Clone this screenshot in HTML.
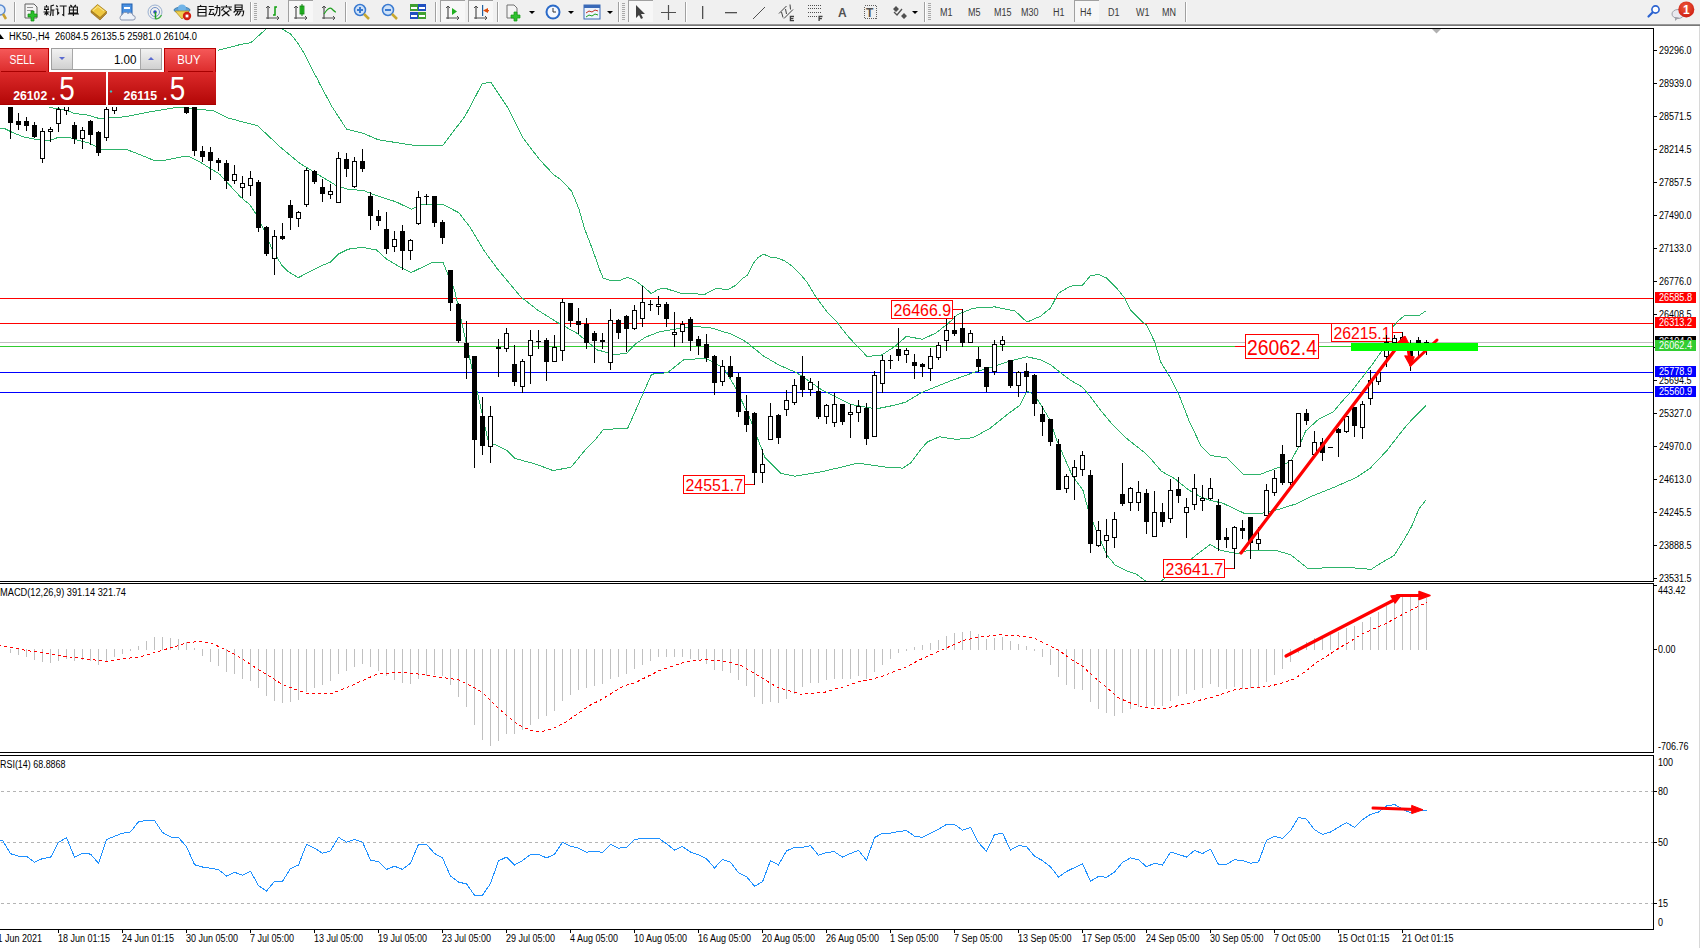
<!DOCTYPE html>
<html><head><meta charset="utf-8"><style>
html,body{margin:0;padding:0;background:#fff;}
body{width:1700px;height:948px;overflow:hidden;}
svg{display:block;font-family:"Liberation Sans", sans-serif;}
</style></head><body>
<svg width="1700" height="948" viewBox="0 0 1700 948"><rect x="0" y="0" width="1700" height="948" fill="#ffffff" /><defs><clipPath id="cmain"><rect x="0" y="29" width="1653" height="552"/></clipPath><clipPath id="cmacd"><rect x="0" y="584" width="1653" height="168"/></clipPath><clipPath id="crsi"><rect x="0" y="756" width="1653" height="173"/></clipPath><linearGradient id="gsell" x1="0" y1="0" x2="0" y2="1"><stop offset="0" stop-color="#f65a5a"/><stop offset="1" stop-color="#dc2c2c"/></linearGradient><linearGradient id="gprice" x1="0" y1="0" x2="0" y2="1"><stop offset="0" stop-color="#dc2a2a"/><stop offset="1" stop-color="#b20606"/></linearGradient><linearGradient id="gbtn" x1="0" y1="0" x2="0" y2="1"><stop offset="0" stop-color="#f2f2f2"/><stop offset="1" stop-color="#d0d0d0"/></linearGradient><linearGradient id="gtb" x1="0" y1="0" x2="0" y2="1"><stop offset="0" stop-color="#a8a8a8"/><stop offset="1" stop-color="#686868"/></linearGradient><radialGradient id="gbadge" cx="0.45" cy="0.35" r="0.7"><stop offset="0" stop-color="#ef5a3a"/><stop offset="1" stop-color="#cc1a10"/></radialGradient></defs><g clip-path="url(#cmain)"><rect x="0" y="298" width="1653" height="1" fill="#ff0000" /><rect x="0" y="323" width="1653" height="1" fill="#ff0000" /><rect x="0" y="342" width="1653" height="1" fill="#c0c0c0" /><rect x="0" y="346" width="1653" height="1" fill="#32cd32" /><rect x="0" y="372" width="1653" height="1" fill="#0000ff" /><rect x="0" y="392" width="1653" height="1" fill="#0000ff" /><polyline points="205.5,54.0 218.5,50.2 240.5,44.5 248.1,43.2 251.3,42.3 255.7,38.3 259.5,34.9 263.3,31.6 266.5,28.8 270.5,25.0 277.5,25.0 281.6,28.8 286.1,31.4 290.5,33.9 294.3,38.7 298.1,43.7 301.3,48.8 304.4,53.8 307.6,60.2 310.8,66.5 313.9,72.8 317.1,78.5 319.9,84.2 331.8,106.4 346.6,129.2 363.6,133.5 378.4,139.8 412.3,145.1 443.0,145.1 465.2,115.9 482.2,83.7 490.6,82.0 507.6,107.4 522.4,137.1 539.3,159.3 553.8,174.8 561.2,179.9 571.5,191.0 578.9,208.7 584.8,229.4 592.2,248.6 599.5,269.2 603.2,278.1 609.9,280.3 620.2,280.3 627.6,277.3 635.0,280.3 643.8,286.9 651.2,293.6 658.6,289.2 665.7,288.4 679.7,293.0 704.8,294.4 715.8,288.4 727.8,289.6 736.0,285.2 742.8,278.4 747.6,275.0 753.8,262.6 757.9,257.8 763.4,254.1 770.3,257.1 778.5,258.2 785.3,261.3 792.2,266.1 799.1,272.9 807.3,282.5 815.5,296.2 826.5,311.3 836.1,320.9 840.2,326.4 847.1,335.3 855.3,344.2 867.1,356.5 881.5,355.1 894.0,347.0 906.5,336.3 922.4,339.3 935.9,333.0 947.7,323.8 957.8,314.5 973.0,308.2 995.0,306.9 1015.2,311.1 1027.0,322.1 1040.5,316.2 1050.5,308.1 1058.5,293.1 1070.6,286.1 1082.6,285.1 1090.6,275.5 1098.6,274.5 1106.7,278.1 1116.7,288.1 1124.7,298.1 1130.7,310.2 1142.8,322.2 1146.8,325.2 1154.8,342.2 1160.8,362.3 1170.8,378.3 1178.8,394.4 1188.9,420.4 1200.8,445.6 1210.8,455.6 1226.8,457.8 1243.8,474.8 1258.8,474.8 1280.1,466.9 1290.7,461.0 1299.2,446.0 1305.6,431.1 1318.4,419.4 1333.3,412.0 1341.1,402.4 1352.0,390.8 1361.0,379.0 1372.6,364.0 1382.2,350.3 1391.8,328.4 1397.3,321.5 1404.1,316.0 1408.2,315.4 1419.2,315.4 1426.1,310.8" fill="none" stroke="#2db36a" stroke-width="1" shape-rendering="crispEdges"/><polyline points="48.7,107.3 66.4,110.0 73.4,113.2 88.7,115.3 98.1,118.2 104.0,118.2 118.1,117.6 129.9,115.9 153.4,111.2 177.0,107.3 200.5,109.5 213.2,110.6 228.0,118.0 257.7,125.8 281.0,147.7 300.0,163.5 321.2,176.4 335.5,185.1 346.6,189.0 363.6,190.6 371.8,193.8 386.9,199.1 395.5,201.6 411.3,209.2 421.5,204.5 443.0,204.5 458.8,212.7 469.9,227.0 484.1,250.7 496.8,268.1 520.5,296.6 537.5,310.0 556.8,322.1 576.8,333.1 597.5,350.0 615.5,354.6 626.6,353.2 635.6,343.8 645.6,337.1 659.7,331.7 675.7,329.1 695.8,326.5 711.8,328.1 730.5,333.9 745.6,341.5 752.4,347.0 763.4,355.9 778.5,364.8 789.5,369.6 797.1,373.0 822.2,390.1 850.9,404.4 876.1,408.9 894.0,405.3 905.5,402.2 922.4,392.1 947.7,382.0 973.0,372.7 993.3,366.8 1010.1,360.9 1027.0,356.7 1040.5,359.9 1050.5,364.7 1060.5,372.7 1070.6,380.3 1082.6,387.3 1088.6,394.4 1100.7,410.4 1110.7,422.4 1126.7,438.5 1144.4,452.5 1151.2,459.3 1161.5,471.3 1175.2,479.0 1188.8,490.1 1200.8,496.9 1210.5,500.5 1222.5,503.1 1243.8,513.1 1263.0,513.1 1280.1,508.9 1297.1,503.6 1312.0,496.1 1333.3,487.6 1355.9,477.7 1370.3,468.1 1386.6,450.9 1403.8,428.8 1412.4,419.0 1425.9,405.8" fill="none" stroke="#2db36a" stroke-width="1" shape-rendering="crispEdges"/><polyline points="-1.5,128.2 4.0,128.2 12.3,132.4 24.0,137.1 35.8,139.4 45.2,140.6 51.1,140.0 58.1,137.4 68.7,137.4 77.0,140.0 88.7,142.9 94.6,145.9 100.5,149.4 126.4,149.4 141.7,155.3 153.4,160.2 165.2,160.2 184.0,156.5 188.7,156.5 200.5,162.4 219.5,174.1 240.5,197.0 250.0,204.9 256.3,214.4 264.2,230.2 272.1,249.2 281.6,265.0 288.0,271.4 298.3,277.7 310.1,271.4 319.6,266.6 330.7,261.9 338.6,253.9 348.1,249.2 362.4,247.3 376.6,250.0 386.1,258.7 400.5,267.4 411.3,272.5 431.9,262.6 443.0,262.6 447.7,273.7 454.5,290.0 488.5,442.4 494.5,444.4 506.7,450.4 514.7,458.4 536.7,464.4 552.8,470.5 570.8,467.4 584.9,450.4 595.5,439.4 603.5,429.4 627.6,428.4 643.6,392.3 651.6,374.2 667.7,372.6 683.7,359.8 705.8,358.2 723.8,368.2 735.9,388.3 750.5,419.7 764.8,457.4 781.0,473.5 795.3,476.2 822.2,471.7 858.1,463.1 886.8,467.2 903.0,468.1 910.5,463.1 920.7,449.5 927.4,441.9 939.3,436.8 956.1,439.4 973.0,437.7 989.9,428.4 1006.8,414.9 1020.3,404.8 1027.0,391.3 1032.1,393.3 1038.8,401.4 1049.0,418.3 1057.4,441.9 1072.6,476.4 1082.9,490.1 1088.0,508.9 1096.5,531.1 1106.8,555.0 1115.3,565.3 1127.3,571.3 1135.8,573.8 1145.2,580.7 1152.5,586.0 1161.5,580.7 1192.3,558.1 1200.8,551.6 1210.2,544.4 1220.4,550.4 1237.5,553.6 1248.1,550.4 1275.8,550.4 1290.7,554.7 1307.8,568.5 1324.8,567.9 1344.0,567.5 1365.5,568.5 1370.3,569.9 1380.8,563.1 1394.2,555.5 1403.8,540.1 1411.5,526.7 1419.2,508.4 1425.9,500.2" fill="none" stroke="#2db36a" stroke-width="1" shape-rendering="crispEdges"/><rect x="891.5" y="300.5" width="61" height="18" fill="#fff" stroke="#ff0000" stroke-width="1"/><text x="893.5" y="316" font-size="16" fill="#ff0000" text-anchor="start" font-weight="normal" textLength="57.60" lengthAdjust="spacingAndGlyphs" >26466.9</text><rect x="953" y="309" width="9" height="1" fill="#ff0000" /><rect x="683.5" y="475.5" width="61" height="18" fill="#fff" stroke="#ff0000" stroke-width="1"/><text x="685.5" y="491" font-size="16" fill="#ff0000" text-anchor="start" font-weight="normal" textLength="57.50" lengthAdjust="spacingAndGlyphs" >24551.7</text><rect x="745" y="484" width="10" height="1" fill="#ff0000" /><rect x="1163.5" y="559.5" width="61" height="18" fill="#fff" stroke="#ff0000" stroke-width="1"/><text x="1165.6" y="575" font-size="16" fill="#ff0000" text-anchor="start" font-weight="normal" textLength="57.40" lengthAdjust="spacingAndGlyphs" >23641.7</text><rect x="1225" y="568" width="10" height="1" fill="#ff0000" /><rect x="1331.5" y="323.5" width="61" height="18" fill="#fff" stroke="#ff0000" stroke-width="1"/><text x="1333.5" y="339" font-size="16" fill="#ff0000" text-anchor="start" font-weight="normal" textLength="57.00" lengthAdjust="spacingAndGlyphs" >26215.1</text><rect x="1393" y="332" width="10" height="1" fill="#ff0000" /><g shape-rendering="crispEdges"><rect x="10" y="95" width="1" height="44" fill="#000" /><rect x="8" y="95" width="5" height="28" fill="#000" /><rect x="18" y="113" width="1" height="17" fill="#000" /><rect x="16" y="121" width="5" height="4" fill="#000" /><rect x="26" y="117" width="1" height="14" fill="#000" /><rect x="24" y="121" width="5" height="5" fill="#000" /><rect x="34" y="122" width="1" height="16" fill="#000" /><rect x="32" y="125" width="5" height="12" fill="#000" /><rect x="42" y="128" width="1" height="35" fill="#000" /><rect x="40" y="131" width="5" height="28" fill="#000" /><rect x="41" y="132" width="3" height="26" fill="#fff" /><rect x="50" y="127" width="1" height="15" fill="#000" /><rect x="48" y="129" width="5" height="3" fill="#000" /><rect x="49" y="130" width="3" height="1" fill="#fff" /><rect x="58" y="100" width="1" height="32" fill="#000" /><rect x="56" y="109" width="5" height="15" fill="#000" /><rect x="57" y="110" width="3" height="13" fill="#fff" /><rect x="66" y="95" width="1" height="20" fill="#000" /><rect x="64" y="95" width="5" height="16" fill="#000" /><rect x="65" y="96" width="3" height="14" fill="#fff" /><rect x="74" y="122" width="1" height="22" fill="#000" /><rect x="72" y="125" width="5" height="14" fill="#000" /><rect x="82" y="127" width="1" height="22" fill="#000" /><rect x="80" y="130" width="5" height="9" fill="#000" /><rect x="81" y="131" width="3" height="7" fill="#fff" /><rect x="90" y="120" width="1" height="25" fill="#000" /><rect x="88" y="121" width="5" height="14" fill="#000" /><rect x="98" y="131" width="1" height="25" fill="#000" /><rect x="96" y="132" width="5" height="21" fill="#000" /><rect x="106" y="100" width="1" height="41" fill="#000" /><rect x="104" y="109" width="5" height="29" fill="#000" /><rect x="105" y="110" width="3" height="27" fill="#fff" /><rect x="114" y="95" width="1" height="19" fill="#000" /><rect x="112" y="95" width="5" height="16" fill="#000" /><rect x="113" y="96" width="3" height="14" fill="#fff" /><rect x="186" y="80" width="1" height="34" fill="#000" /><rect x="184" y="90" width="5" height="23" fill="#000" /><rect x="194" y="90" width="1" height="66" fill="#000" /><rect x="192" y="95" width="5" height="56" fill="#000" /><rect x="202" y="146" width="1" height="16" fill="#000" /><rect x="200" y="151" width="5" height="6" fill="#000" /><rect x="210" y="147" width="1" height="33" fill="#000" /><rect x="208" y="152" width="5" height="9" fill="#000" /><rect x="218" y="158" width="1" height="13" fill="#000" /><rect x="216" y="160" width="5" height="3" fill="#000" /><rect x="226" y="160" width="1" height="29" fill="#000" /><rect x="224" y="163" width="5" height="18" fill="#000" /><rect x="234" y="165" width="1" height="19" fill="#000" /><rect x="232" y="174" width="5" height="7" fill="#000" /><rect x="233" y="175" width="3" height="5" fill="#fff" /><rect x="242" y="176" width="1" height="22" fill="#000" /><rect x="240" y="183" width="5" height="5" fill="#000" /><rect x="241" y="184" width="3" height="3" fill="#fff" /><rect x="250" y="171" width="1" height="25" fill="#000" /><rect x="248" y="178" width="5" height="8" fill="#000" /><rect x="249" y="179" width="3" height="6" fill="#fff" /><rect x="258" y="180" width="1" height="52" fill="#000" /><rect x="256" y="182" width="5" height="46" fill="#000" /><rect x="266" y="226" width="1" height="30" fill="#000" /><rect x="264" y="227" width="5" height="27" fill="#000" /><rect x="274" y="230" width="1" height="45" fill="#000" /><rect x="272" y="236" width="5" height="23" fill="#000" /><rect x="273" y="237" width="3" height="21" fill="#fff" /><rect x="282" y="223" width="1" height="17" fill="#000" /><rect x="280" y="236" width="5" height="3" fill="#000" /><rect x="290" y="200" width="1" height="30" fill="#000" /><rect x="288" y="205" width="5" height="13" fill="#000" /><rect x="298" y="211" width="1" height="16" fill="#000" /><rect x="296" y="212" width="5" height="7" fill="#000" /><rect x="297" y="213" width="3" height="5" fill="#fff" /><rect x="306" y="168" width="1" height="39" fill="#000" /><rect x="304" y="170" width="5" height="35" fill="#000" /><rect x="305" y="171" width="3" height="33" fill="#fff" /><rect x="314" y="170" width="1" height="14" fill="#000" /><rect x="312" y="171" width="5" height="11" fill="#000" /><rect x="322" y="179" width="1" height="23" fill="#000" /><rect x="320" y="187" width="5" height="7" fill="#000" /><rect x="330" y="184" width="1" height="15" fill="#000" /><rect x="328" y="191" width="5" height="4" fill="#000" /><rect x="329" y="192" width="3" height="2" fill="#fff" /><rect x="338" y="152" width="1" height="51" fill="#000" /><rect x="336" y="158" width="5" height="45" fill="#000" /><rect x="337" y="159" width="3" height="43" fill="#fff" /><rect x="346" y="153" width="1" height="24" fill="#000" /><rect x="344" y="159" width="5" height="10" fill="#000" /><rect x="354" y="157" width="1" height="31" fill="#000" /><rect x="352" y="161" width="5" height="26" fill="#000" /><rect x="353" y="162" width="3" height="24" fill="#fff" /><rect x="362" y="149" width="1" height="23" fill="#000" /><rect x="360" y="161" width="5" height="8" fill="#000" /><rect x="370" y="192" width="1" height="38" fill="#000" /><rect x="368" y="196" width="5" height="20" fill="#000" /><rect x="378" y="210" width="1" height="16" fill="#000" /><rect x="376" y="216" width="5" height="5" fill="#000" /><rect x="386" y="212" width="1" height="42" fill="#000" /><rect x="384" y="229" width="5" height="20" fill="#000" /><rect x="394" y="231" width="1" height="21" fill="#000" /><rect x="392" y="239" width="5" height="8" fill="#000" /><rect x="393" y="240" width="3" height="6" fill="#fff" /><rect x="402" y="225" width="1" height="45" fill="#000" /><rect x="400" y="231" width="5" height="20" fill="#000" /><rect x="410" y="239" width="1" height="21" fill="#000" /><rect x="408" y="240" width="5" height="11" fill="#000" /><rect x="409" y="241" width="3" height="9" fill="#fff" /><rect x="418" y="191" width="1" height="34" fill="#000" /><rect x="416" y="197" width="5" height="27" fill="#000" /><rect x="417" y="198" width="3" height="25" fill="#fff" /><rect x="426" y="194" width="1" height="11" fill="#000" /><rect x="424" y="196" width="5" height="1" fill="#000" /><rect x="434" y="196" width="1" height="31" fill="#000" /><rect x="432" y="196" width="5" height="27" fill="#000" /><rect x="442" y="220" width="1" height="24" fill="#000" /><rect x="440" y="222" width="5" height="16" fill="#000" /><rect x="450" y="270" width="1" height="41" fill="#000" /><rect x="448" y="270" width="5" height="33" fill="#000" /><rect x="458" y="303" width="1" height="40" fill="#000" /><rect x="456" y="304" width="5" height="37" fill="#000" /><rect x="466" y="321" width="1" height="58" fill="#000" /><rect x="464" y="343" width="5" height="15" fill="#000" /><rect x="474" y="356" width="1" height="112" fill="#000" /><rect x="472" y="356" width="5" height="84" fill="#000" /><rect x="482" y="397" width="1" height="58" fill="#000" /><rect x="480" y="416" width="5" height="30" fill="#000" /><rect x="490" y="406" width="1" height="57" fill="#000" /><rect x="488" y="416" width="5" height="31" fill="#000" /><rect x="489" y="417" width="3" height="29" fill="#fff" /><rect x="498" y="339" width="1" height="38" fill="#000" /><rect x="496" y="347" width="5" height="2" fill="#000" /><rect x="506" y="328" width="1" height="24" fill="#000" /><rect x="504" y="333" width="5" height="16" fill="#000" /><rect x="505" y="334" width="3" height="14" fill="#fff" /><rect x="514" y="345" width="1" height="41" fill="#000" /><rect x="512" y="364" width="5" height="18" fill="#000" /><rect x="522" y="359" width="1" height="34" fill="#000" /><rect x="520" y="361" width="5" height="26" fill="#000" /><rect x="521" y="362" width="3" height="24" fill="#fff" /><rect x="530" y="330" width="1" height="54" fill="#000" /><rect x="528" y="340" width="5" height="16" fill="#000" /><rect x="529" y="341" width="3" height="14" fill="#fff" /><rect x="538" y="330" width="1" height="19" fill="#000" /><rect x="536" y="341" width="5" height="1" fill="#000" /><rect x="546" y="338" width="1" height="43" fill="#000" /><rect x="544" y="340" width="5" height="22" fill="#000" /><rect x="554" y="335" width="1" height="27" fill="#000" /><rect x="552" y="347" width="5" height="15" fill="#000" /><rect x="553" y="348" width="3" height="13" fill="#fff" /><rect x="562" y="299" width="1" height="62" fill="#000" /><rect x="560" y="302" width="5" height="49" fill="#000" /><rect x="561" y="303" width="3" height="47" fill="#fff" /><rect x="570" y="303" width="1" height="24" fill="#000" /><rect x="568" y="303" width="5" height="18" fill="#000" /><rect x="578" y="308" width="1" height="26" fill="#000" /><rect x="576" y="321" width="5" height="4" fill="#000" /><rect x="586" y="318" width="1" height="31" fill="#000" /><rect x="584" y="324" width="5" height="19" fill="#000" /><rect x="594" y="331" width="1" height="32" fill="#000" /><rect x="592" y="333" width="5" height="8" fill="#000" /><rect x="602" y="333" width="1" height="16" fill="#000" /><rect x="600" y="340" width="5" height="2" fill="#000" /><rect x="610" y="309" width="1" height="61" fill="#000" /><rect x="608" y="320" width="5" height="43" fill="#000" /><rect x="609" y="321" width="3" height="41" fill="#fff" /><rect x="618" y="319" width="1" height="20" fill="#000" /><rect x="616" y="320" width="5" height="13" fill="#000" /><rect x="626" y="315" width="1" height="37" fill="#000" /><rect x="624" y="316" width="5" height="13" fill="#000" /><rect x="634" y="305" width="1" height="25" fill="#000" /><rect x="632" y="310" width="5" height="19" fill="#000" /><rect x="633" y="311" width="3" height="17" fill="#fff" /><rect x="642" y="286" width="1" height="41" fill="#000" /><rect x="640" y="302" width="5" height="17" fill="#000" /><rect x="641" y="303" width="3" height="15" fill="#fff" /><rect x="650" y="300" width="1" height="11" fill="#000" /><rect x="648" y="304" width="5" height="1" fill="#000" /><rect x="658" y="296" width="1" height="19" fill="#000" /><rect x="656" y="304" width="5" height="3" fill="#000" /><rect x="657" y="305" width="3" height="1" fill="#fff" /><rect x="666" y="302" width="1" height="25" fill="#000" /><rect x="664" y="304" width="5" height="15" fill="#000" /><rect x="674" y="312" width="1" height="35" fill="#000" /><rect x="672" y="332" width="5" height="3" fill="#000" /><rect x="673" y="333" width="3" height="1" fill="#fff" /><rect x="682" y="321" width="1" height="22" fill="#000" /><rect x="680" y="324" width="5" height="8" fill="#000" /><rect x="681" y="325" width="3" height="6" fill="#fff" /><rect x="690" y="317" width="1" height="34" fill="#000" /><rect x="688" y="319" width="5" height="22" fill="#000" /><rect x="698" y="336" width="1" height="19" fill="#000" /><rect x="696" y="339" width="5" height="7" fill="#000" /><rect x="706" y="334" width="1" height="28" fill="#000" /><rect x="704" y="344" width="5" height="14" fill="#000" /><rect x="714" y="355" width="1" height="40" fill="#000" /><rect x="712" y="356" width="5" height="27" fill="#000" /><rect x="722" y="360" width="1" height="26" fill="#000" /><rect x="720" y="366" width="5" height="16" fill="#000" /><rect x="721" y="367" width="3" height="14" fill="#fff" /><rect x="730" y="356" width="1" height="22" fill="#000" /><rect x="728" y="366" width="5" height="11" fill="#000" /><rect x="738" y="373" width="1" height="44" fill="#000" /><rect x="736" y="377" width="5" height="35" fill="#000" /><rect x="746" y="395" width="1" height="37" fill="#000" /><rect x="744" y="411" width="5" height="14" fill="#000" /><rect x="754" y="412" width="1" height="73" fill="#000" /><rect x="752" y="413" width="5" height="60" fill="#000" /><rect x="762" y="449" width="1" height="34" fill="#000" /><rect x="760" y="464" width="5" height="9" fill="#000" /><rect x="761" y="465" width="3" height="7" fill="#fff" /><rect x="770" y="403" width="1" height="37" fill="#000" /><rect x="768" y="416" width="5" height="24" fill="#000" /><rect x="769" y="417" width="3" height="22" fill="#fff" /><rect x="778" y="414" width="1" height="30" fill="#000" /><rect x="776" y="415" width="5" height="23" fill="#000" /><rect x="786" y="390" width="1" height="26" fill="#000" /><rect x="784" y="400" width="5" height="10" fill="#000" /><rect x="785" y="401" width="3" height="8" fill="#fff" /><rect x="794" y="379" width="1" height="26" fill="#000" /><rect x="792" y="385" width="5" height="18" fill="#000" /><rect x="793" y="386" width="3" height="16" fill="#fff" /><rect x="802" y="356" width="1" height="41" fill="#000" /><rect x="800" y="376" width="5" height="14" fill="#000" /><rect x="810" y="378" width="1" height="18" fill="#000" /><rect x="808" y="382" width="5" height="8" fill="#000" /><rect x="809" y="383" width="3" height="6" fill="#fff" /><rect x="818" y="381" width="1" height="38" fill="#000" /><rect x="816" y="391" width="5" height="26" fill="#000" /><rect x="826" y="404" width="1" height="20" fill="#000" /><rect x="824" y="405" width="5" height="12" fill="#000" /><rect x="825" y="406" width="3" height="10" fill="#fff" /><rect x="834" y="393" width="1" height="34" fill="#000" /><rect x="832" y="404" width="5" height="19" fill="#000" /><rect x="833" y="405" width="3" height="17" fill="#fff" /><rect x="842" y="404" width="1" height="21" fill="#000" /><rect x="840" y="404" width="5" height="18" fill="#000" /><rect x="850" y="404" width="1" height="34" fill="#000" /><rect x="848" y="412" width="5" height="3" fill="#000" /><rect x="849" y="413" width="3" height="1" fill="#fff" /><rect x="858" y="400" width="1" height="22" fill="#000" /><rect x="856" y="406" width="5" height="7" fill="#000" /><rect x="857" y="407" width="3" height="5" fill="#fff" /><rect x="866" y="403" width="1" height="42" fill="#000" /><rect x="864" y="408" width="5" height="31" fill="#000" /><rect x="874" y="371" width="1" height="66" fill="#000" /><rect x="872" y="375" width="5" height="62" fill="#000" /><rect x="873" y="376" width="3" height="60" fill="#fff" /><rect x="882" y="355" width="1" height="38" fill="#000" /><rect x="880" y="360" width="5" height="24" fill="#000" /><rect x="881" y="361" width="3" height="22" fill="#fff" /><rect x="890" y="355" width="1" height="14" fill="#000" /><rect x="888" y="360" width="5" height="1" fill="#000" /><rect x="898" y="328" width="1" height="33" fill="#000" /><rect x="896" y="349" width="5" height="7" fill="#000" /><rect x="906" y="348" width="1" height="15" fill="#000" /><rect x="904" y="350" width="5" height="5" fill="#000" /><rect x="905" y="351" width="3" height="3" fill="#fff" /><rect x="914" y="354" width="1" height="25" fill="#000" /><rect x="912" y="362" width="5" height="4" fill="#000" /><rect x="922" y="363" width="1" height="14" fill="#000" /><rect x="920" y="364" width="5" height="3" fill="#000" /><rect x="930" y="348" width="1" height="33" fill="#000" /><rect x="928" y="356" width="5" height="13" fill="#000" /><rect x="929" y="357" width="3" height="11" fill="#fff" /><rect x="938" y="342" width="1" height="18" fill="#000" /><rect x="936" y="345" width="5" height="13" fill="#000" /><rect x="937" y="346" width="3" height="11" fill="#fff" /><rect x="946" y="319" width="1" height="32" fill="#000" /><rect x="944" y="330" width="5" height="11" fill="#000" /><rect x="945" y="331" width="3" height="9" fill="#fff" /><rect x="954" y="316" width="1" height="20" fill="#000" /><rect x="952" y="330" width="5" height="4" fill="#000" /><rect x="962" y="309" width="1" height="38" fill="#000" /><rect x="960" y="328" width="5" height="15" fill="#000" /><rect x="970" y="330" width="1" height="13" fill="#000" /><rect x="968" y="333" width="5" height="10" fill="#000" /><rect x="969" y="334" width="3" height="8" fill="#fff" /><rect x="978" y="347" width="1" height="25" fill="#000" /><rect x="976" y="359" width="5" height="8" fill="#000" /><rect x="986" y="367" width="1" height="25" fill="#000" /><rect x="984" y="367" width="5" height="20" fill="#000" /><rect x="994" y="340" width="1" height="35" fill="#000" /><rect x="992" y="344" width="5" height="28" fill="#000" /><rect x="993" y="345" width="3" height="26" fill="#fff" /><rect x="1002" y="336" width="1" height="15" fill="#000" /><rect x="1000" y="340" width="5" height="5" fill="#000" /><rect x="1001" y="341" width="3" height="3" fill="#fff" /><rect x="1010" y="360" width="1" height="28" fill="#000" /><rect x="1008" y="360" width="5" height="26" fill="#000" /><rect x="1018" y="371" width="1" height="26" fill="#000" /><rect x="1016" y="372" width="5" height="14" fill="#000" /><rect x="1017" y="373" width="3" height="12" fill="#fff" /><rect x="1026" y="363" width="1" height="29" fill="#000" /><rect x="1024" y="371" width="5" height="6" fill="#000" /><rect x="1034" y="374" width="1" height="42" fill="#000" /><rect x="1032" y="375" width="5" height="29" fill="#000" /><rect x="1042" y="406" width="1" height="30" fill="#000" /><rect x="1040" y="414" width="5" height="8" fill="#000" /><rect x="1050" y="419" width="1" height="27" fill="#000" /><rect x="1048" y="419" width="5" height="23" fill="#000" /><rect x="1058" y="439" width="1" height="51" fill="#000" /><rect x="1056" y="444" width="5" height="46" fill="#000" /><rect x="1066" y="474" width="1" height="19" fill="#000" /><rect x="1064" y="476" width="5" height="13" fill="#000" /><rect x="1065" y="477" width="3" height="11" fill="#fff" /><rect x="1074" y="460" width="1" height="40" fill="#000" /><rect x="1072" y="467" width="5" height="10" fill="#000" /><rect x="1073" y="468" width="3" height="8" fill="#fff" /><rect x="1082" y="451" width="1" height="25" fill="#000" /><rect x="1080" y="455" width="5" height="15" fill="#000" /><rect x="1081" y="456" width="3" height="13" fill="#fff" /><rect x="1090" y="470" width="1" height="83" fill="#000" /><rect x="1088" y="475" width="5" height="69" fill="#000" /><rect x="1098" y="521" width="1" height="26" fill="#000" /><rect x="1096" y="530" width="5" height="16" fill="#000" /><rect x="1097" y="531" width="3" height="14" fill="#fff" /><rect x="1106" y="519" width="1" height="39" fill="#000" /><rect x="1104" y="535" width="5" height="6" fill="#000" /><rect x="1105" y="536" width="3" height="4" fill="#fff" /><rect x="1114" y="512" width="1" height="36" fill="#000" /><rect x="1112" y="519" width="5" height="19" fill="#000" /><rect x="1113" y="520" width="3" height="17" fill="#fff" /><rect x="1122" y="463" width="1" height="43" fill="#000" /><rect x="1120" y="494" width="5" height="10" fill="#000" /><rect x="1130" y="487" width="1" height="24" fill="#000" /><rect x="1128" y="488" width="5" height="15" fill="#000" /><rect x="1129" y="489" width="3" height="13" fill="#fff" /><rect x="1138" y="481" width="1" height="30" fill="#000" /><rect x="1136" y="492" width="5" height="11" fill="#000" /><rect x="1137" y="493" width="3" height="9" fill="#fff" /><rect x="1146" y="489" width="1" height="45" fill="#000" /><rect x="1144" y="493" width="5" height="29" fill="#000" /><rect x="1154" y="491" width="1" height="46" fill="#000" /><rect x="1152" y="512" width="5" height="25" fill="#000" /><rect x="1153" y="513" width="3" height="23" fill="#fff" /><rect x="1162" y="503" width="1" height="24" fill="#000" /><rect x="1160" y="512" width="5" height="10" fill="#000" /><rect x="1170" y="479" width="1" height="44" fill="#000" /><rect x="1168" y="490" width="5" height="29" fill="#000" /><rect x="1169" y="491" width="3" height="27" fill="#fff" /><rect x="1178" y="477" width="1" height="26" fill="#000" /><rect x="1176" y="489" width="5" height="7" fill="#000" /><rect x="1186" y="498" width="1" height="40" fill="#000" /><rect x="1184" y="507" width="5" height="6" fill="#000" /><rect x="1185" y="508" width="3" height="4" fill="#fff" /><rect x="1194" y="474" width="1" height="36" fill="#000" /><rect x="1192" y="488" width="5" height="17" fill="#000" /><rect x="1193" y="489" width="3" height="15" fill="#fff" /><rect x="1202" y="485" width="1" height="26" fill="#000" /><rect x="1200" y="498" width="5" height="3" fill="#000" /><rect x="1201" y="499" width="3" height="1" fill="#fff" /><rect x="1210" y="478" width="1" height="22" fill="#000" /><rect x="1208" y="488" width="5" height="11" fill="#000" /><rect x="1209" y="489" width="3" height="9" fill="#fff" /><rect x="1218" y="499" width="1" height="52" fill="#000" /><rect x="1216" y="505" width="5" height="35" fill="#000" /><rect x="1226" y="528" width="1" height="20" fill="#000" /><rect x="1224" y="537" width="5" height="3" fill="#000" /><rect x="1234" y="526" width="1" height="43" fill="#000" /><rect x="1232" y="527" width="5" height="22" fill="#000" /><rect x="1233" y="528" width="3" height="20" fill="#fff" /><rect x="1242" y="520" width="1" height="19" fill="#000" /><rect x="1240" y="528" width="5" height="3" fill="#000" /><rect x="1250" y="517" width="1" height="42" fill="#000" /><rect x="1248" y="517" width="5" height="26" fill="#000" /><rect x="1258" y="527" width="1" height="23" fill="#000" /><rect x="1256" y="539" width="5" height="5" fill="#000" /><rect x="1257" y="540" width="3" height="3" fill="#fff" /><rect x="1266" y="484" width="1" height="32" fill="#000" /><rect x="1264" y="490" width="5" height="26" fill="#000" /><rect x="1265" y="491" width="3" height="24" fill="#fff" /><rect x="1274" y="470" width="1" height="26" fill="#000" /><rect x="1272" y="478" width="5" height="15" fill="#000" /><rect x="1273" y="479" width="3" height="13" fill="#fff" /><rect x="1282" y="445" width="1" height="40" fill="#000" /><rect x="1280" y="454" width="5" height="29" fill="#000" /><rect x="1290" y="460" width="1" height="25" fill="#000" /><rect x="1288" y="460" width="5" height="23" fill="#000" /><rect x="1289" y="461" width="3" height="21" fill="#fff" /><rect x="1298" y="413" width="1" height="34" fill="#000" /><rect x="1296" y="413" width="5" height="34" fill="#000" /><rect x="1297" y="414" width="3" height="32" fill="#fff" /><rect x="1306" y="409" width="1" height="16" fill="#000" /><rect x="1304" y="413" width="5" height="8" fill="#000" /><rect x="1314" y="431" width="1" height="24" fill="#000" /><rect x="1312" y="442" width="5" height="13" fill="#000" /><rect x="1313" y="443" width="3" height="11" fill="#fff" /><rect x="1322" y="438" width="1" height="23" fill="#000" /><rect x="1320" y="442" width="5" height="11" fill="#000" /><rect x="1330" y="447" width="1" height="1" fill="#000" /><rect x="1328" y="447" width="5" height="1" fill="#000" /><rect x="1338" y="428" width="1" height="29" fill="#000" /><rect x="1336" y="429" width="5" height="4" fill="#000" /><rect x="1346" y="413" width="1" height="20" fill="#000" /><rect x="1344" y="416" width="5" height="16" fill="#000" /><rect x="1345" y="417" width="3" height="14" fill="#fff" /><rect x="1354" y="407" width="1" height="30" fill="#000" /><rect x="1352" y="407" width="5" height="19" fill="#000" /><rect x="1362" y="401" width="1" height="38" fill="#000" /><rect x="1360" y="404" width="5" height="24" fill="#000" /><rect x="1361" y="405" width="3" height="22" fill="#fff" /><rect x="1370" y="370" width="1" height="35" fill="#000" /><rect x="1368" y="380" width="5" height="19" fill="#000" /><rect x="1369" y="381" width="3" height="17" fill="#fff" /><rect x="1378" y="370" width="1" height="15" fill="#000" /><rect x="1376" y="372" width="5" height="10" fill="#000" /><rect x="1377" y="373" width="3" height="8" fill="#fff" /><rect x="1386" y="335" width="1" height="32" fill="#000" /><rect x="1384" y="342" width="5" height="15" fill="#000" /><rect x="1385" y="343" width="3" height="13" fill="#fff" /><rect x="1394" y="335" width="1" height="14" fill="#000" /><rect x="1392" y="338" width="5" height="5" fill="#000" /><rect x="1393" y="339" width="3" height="3" fill="#fff" /><rect x="1402" y="332" width="1" height="19" fill="#000" /><rect x="1400" y="337" width="5" height="11" fill="#000" /><rect x="1401" y="338" width="3" height="9" fill="#fff" /><rect x="1410" y="340" width="1" height="31" fill="#000" /><rect x="1408" y="344" width="5" height="12" fill="#000" /><rect x="1418" y="337" width="1" height="19" fill="#000" /><rect x="1416" y="340" width="5" height="4" fill="#000" /><rect x="1426" y="340" width="1" height="15" fill="#000" /><rect x="1424" y="342" width="5" height="3" fill="#000" /><rect x="1425" y="343" width="3" height="1" fill="#fff" /></g><g stroke="#ff0000" fill="#ff0000" stroke-linecap="round" stroke-linejoin="round"><line x1="1241" y1="553" x2="1404" y2="338" stroke-width="3.2"/><polygon points="1397,343 1405,336 1408.5,343" stroke-width="1"/><line x1="1407.5" y1="345" x2="1409.5" y2="358" stroke-width="3"/><polygon points="1405,356 1414,357 1410.5,366" stroke-width="1.5"/><line x1="1410.5" y1="365" x2="1437" y2="340" stroke-width="3"/></g><rect x="1351" y="343" width="127" height="8" fill="#00ff00" /><rect x="1235" y="346" width="10" height="1" fill="#ff0000" /><rect x="1245.5" y="334.5" width="73" height="24" fill="#fff" stroke="#ff0000" stroke-width="1"/><text x="1247" y="355.3" font-size="22" fill="#ff0000" text-anchor="start" font-weight="normal" textLength="70.00" lengthAdjust="spacingAndGlyphs" >26062.4</text><polygon points="0,34 0,39 4,39" fill="#000"/><text x="9" y="40" font-size="10" fill="#000" text-anchor="start" font-weight="normal" textLength="188.00" lengthAdjust="spacingAndGlyphs" >HK50-,H4&#160;&#160;26084.5 26135.5 25981.0 26104.0</text></g><rect x="0" y="46" width="218" height="61" fill="#ffffff" /><rect x="0" y="48" width="49" height="24" fill="url(#gsell)" /><rect x="0" y="48" width="49" height="1" fill="#b80000" /><rect x="48" y="48" width="1" height="24" fill="#b80000" /><rect x="1" y="71" width="45" height="1" fill="#a80000" /><rect x="1" y="72" width="45" height="1" fill="#f07070" /><text x="9.5" y="64" font-size="12.5" fill="#fff" text-anchor="start" font-weight="normal" textLength="25.30" lengthAdjust="spacingAndGlyphs" >SELL</text><rect x="164" y="48" width="52" height="24" fill="url(#gsell)" /><rect x="164" y="48" width="52" height="1" fill="#b80000" /><rect x="164" y="48" width="1" height="24" fill="#b80000" /><rect x="215" y="48" width="1" height="57" fill="#b80000" /><rect x="168" y="71" width="45" height="1" fill="#a80000" /><rect x="168" y="72" width="45" height="1" fill="#f07070" /><text x="177.3" y="64" font-size="12.5" fill="#fff" text-anchor="start" font-weight="normal" textLength="23.30" lengthAdjust="spacingAndGlyphs" >BUY</text><rect x="49" y="48" width="115" height="24" fill="#ffffff" /><rect x="51" y="48" width="111" height="22" fill="#a0a0a0" /><rect x="52" y="49" width="109" height="20" fill="#ffffff" /><rect x="52" y="49" width="20" height="20" fill="url(#gbtn)" /><rect x="72" y="49" width="1" height="20" fill="#a8a8a8" /><rect x="140" y="49" width="1" height="20" fill="#a8a8a8" /><rect x="141" y="49" width="20" height="20" fill="url(#gbtn)" /><polygon points="59,57 65,57 62,60" fill="#5a6ad0"/><polygon points="148,60 154,60 151,57" fill="#5a6ad0"/><text x="136.5" y="63.5" font-size="12" fill="#000" text-anchor="end" font-weight="normal" textLength="22.60" lengthAdjust="spacingAndGlyphs" >1.00</text><rect x="0" y="72" width="106" height="33" fill="url(#gprice)" /><rect x="108" y="72" width="108" height="33" fill="url(#gprice)" /><rect x="106" y="72" width="2" height="33" fill="#ffffff" /><rect x="0" y="104" width="106" height="1" fill="#a80000" /><rect x="108" y="104" width="108" height="1" fill="#a80000" /><text x="13.2" y="100" font-size="12.5" fill="#fff" text-anchor="start" font-weight="bold" textLength="34.00" lengthAdjust="spacingAndGlyphs" >26102</text><text x="51.5" y="100" font-size="14" fill="#fff" text-anchor="start" font-weight="bold" textLength="3.89" lengthAdjust="spacingAndGlyphs" >.</text><text x="59.3" y="100.2" font-size="33.5" fill="#fff" text-anchor="start" font-weight="normal" textLength="15.50" lengthAdjust="spacingAndGlyphs" >5</text><text x="123.6" y="100" font-size="12.5" fill="#fff" text-anchor="start" font-weight="bold" textLength="33.60" lengthAdjust="spacingAndGlyphs" >26115</text><text x="163.2" y="100" font-size="14" fill="#fff" text-anchor="start" font-weight="bold" textLength="3.89" lengthAdjust="spacingAndGlyphs" >.</text><text x="169.7" y="100.2" font-size="33.5" fill="#fff" text-anchor="start" font-weight="normal" textLength="15.50" lengthAdjust="spacingAndGlyphs" >5</text><rect x="110" y="90.5" width="2" height="2" fill="#40c0c0" transform="rotate(45 111 91.5)"/><g clip-path="url(#cmacd)"><g shape-rendering="crispEdges"><rect x="10" y="649" width="1" height="4" fill="#c0c0c0" /><rect x="18" y="649" width="1" height="6" fill="#c0c0c0" /><rect x="26" y="649" width="1" height="8" fill="#c0c0c0" /><rect x="34" y="649" width="1" height="11" fill="#c0c0c0" /><rect x="42" y="649" width="1" height="13" fill="#c0c0c0" /><rect x="50" y="649" width="1" height="14" fill="#c0c0c0" /><rect x="58" y="649" width="1" height="12" fill="#c0c0c0" /><rect x="66" y="649" width="1" height="10" fill="#c0c0c0" /><rect x="74" y="649" width="1" height="12" fill="#c0c0c0" /><rect x="82" y="649" width="1" height="11" fill="#c0c0c0" /><rect x="90" y="649" width="1" height="12" fill="#c0c0c0" /><rect x="98" y="649" width="1" height="16" fill="#c0c0c0" /><rect x="106" y="649" width="1" height="13" fill="#c0c0c0" /><rect x="114" y="649" width="1" height="8" fill="#c0c0c0" /><rect x="122" y="649" width="1" height="5" fill="#c0c0c0" /><rect x="130" y="649" width="1" height="2" fill="#c0c0c0" /><rect x="138" y="646" width="1" height="4" fill="#c0c0c0" /><rect x="146" y="641" width="1" height="9" fill="#c0c0c0" /><rect x="154" y="637" width="1" height="13" fill="#c0c0c0" /><rect x="162" y="637" width="1" height="13" fill="#c0c0c0" /><rect x="170" y="638" width="1" height="12" fill="#c0c0c0" /><rect x="178" y="639" width="1" height="11" fill="#c0c0c0" /><rect x="186" y="642" width="1" height="8" fill="#c0c0c0" /><rect x="194" y="648" width="1" height="2" fill="#c0c0c0" /><rect x="202" y="649" width="1" height="7" fill="#c0c0c0" /><rect x="210" y="649" width="1" height="13" fill="#c0c0c0" /><rect x="218" y="649" width="1" height="17" fill="#c0c0c0" /><rect x="226" y="649" width="1" height="23" fill="#c0c0c0" /><rect x="234" y="649" width="1" height="25" fill="#c0c0c0" /><rect x="242" y="649" width="1" height="30" fill="#c0c0c0" /><rect x="250" y="649" width="1" height="32" fill="#c0c0c0" /><rect x="258" y="649" width="1" height="39" fill="#c0c0c0" /><rect x="266" y="649" width="1" height="47" fill="#c0c0c0" /><rect x="274" y="649" width="1" height="52" fill="#c0c0c0" /><rect x="282" y="649" width="1" height="54" fill="#c0c0c0" /><rect x="290" y="649" width="1" height="53" fill="#c0c0c0" /><rect x="298" y="649" width="1" height="51" fill="#c0c0c0" /><rect x="306" y="649" width="1" height="43" fill="#c0c0c0" /><rect x="314" y="649" width="1" height="39" fill="#c0c0c0" /><rect x="322" y="649" width="1" height="36" fill="#c0c0c0" /><rect x="330" y="649" width="1" height="32" fill="#c0c0c0" /><rect x="338" y="649" width="1" height="25" fill="#c0c0c0" /><rect x="346" y="649" width="1" height="22" fill="#c0c0c0" /><rect x="354" y="649" width="1" height="18" fill="#c0c0c0" /><rect x="362" y="649" width="1" height="15" fill="#c0c0c0" /><rect x="370" y="649" width="1" height="18" fill="#c0c0c0" /><rect x="378" y="649" width="1" height="22" fill="#c0c0c0" /><rect x="386" y="649" width="1" height="27" fill="#c0c0c0" /><rect x="394" y="649" width="1" height="31" fill="#c0c0c0" /><rect x="402" y="649" width="1" height="34" fill="#c0c0c0" /><rect x="410" y="649" width="1" height="35" fill="#c0c0c0" /><rect x="418" y="649" width="1" height="30" fill="#c0c0c0" /><rect x="426" y="649" width="1" height="27" fill="#c0c0c0" /><rect x="434" y="649" width="1" height="26" fill="#c0c0c0" /><rect x="442" y="649" width="1" height="27" fill="#c0c0c0" /><rect x="450" y="649" width="1" height="36" fill="#c0c0c0" /><rect x="458" y="649" width="1" height="48" fill="#c0c0c0" /><rect x="466" y="649" width="1" height="58" fill="#c0c0c0" /><rect x="474" y="649" width="1" height="76" fill="#c0c0c0" /><rect x="482" y="649" width="1" height="91" fill="#c0c0c0" /><rect x="490" y="649" width="1" height="97" fill="#c0c0c0" /><rect x="498" y="649" width="1" height="92" fill="#c0c0c0" /><rect x="506" y="649" width="1" height="85" fill="#c0c0c0" /><rect x="514" y="649" width="1" height="85" fill="#c0c0c0" /><rect x="522" y="649" width="1" height="81" fill="#c0c0c0" /><rect x="530" y="649" width="1" height="76" fill="#c0c0c0" /><rect x="538" y="649" width="1" height="70" fill="#c0c0c0" /><rect x="546" y="649" width="1" height="67" fill="#c0c0c0" /><rect x="554" y="649" width="1" height="62" fill="#c0c0c0" /><rect x="562" y="649" width="1" height="52" fill="#c0c0c0" /><rect x="570" y="649" width="1" height="46" fill="#c0c0c0" /><rect x="578" y="649" width="1" height="41" fill="#c0c0c0" /><rect x="586" y="649" width="1" height="39" fill="#c0c0c0" /><rect x="594" y="649" width="1" height="37" fill="#c0c0c0" /><rect x="602" y="649" width="1" height="35" fill="#c0c0c0" /><rect x="610" y="649" width="1" height="30" fill="#c0c0c0" /><rect x="618" y="649" width="1" height="28" fill="#c0c0c0" /><rect x="626" y="649" width="1" height="25" fill="#c0c0c0" /><rect x="634" y="649" width="1" height="20" fill="#c0c0c0" /><rect x="642" y="649" width="1" height="16" fill="#c0c0c0" /><rect x="650" y="649" width="1" height="12" fill="#c0c0c0" /><rect x="658" y="649" width="1" height="8" fill="#c0c0c0" /><rect x="666" y="649" width="1" height="8" fill="#c0c0c0" /><rect x="674" y="649" width="1" height="8" fill="#c0c0c0" /><rect x="682" y="649" width="1" height="8" fill="#c0c0c0" /><rect x="690" y="649" width="1" height="10" fill="#c0c0c0" /><rect x="698" y="649" width="1" height="11" fill="#c0c0c0" /><rect x="706" y="649" width="1" height="15" fill="#c0c0c0" /><rect x="714" y="649" width="1" height="21" fill="#c0c0c0" /><rect x="722" y="649" width="1" height="22" fill="#c0c0c0" /><rect x="730" y="649" width="1" height="24" fill="#c0c0c0" /><rect x="738" y="649" width="1" height="31" fill="#c0c0c0" /><rect x="746" y="649" width="1" height="37" fill="#c0c0c0" /><rect x="754" y="649" width="1" height="48" fill="#c0c0c0" /><rect x="762" y="649" width="1" height="55" fill="#c0c0c0" /><rect x="770" y="649" width="1" height="53" fill="#c0c0c0" /><rect x="778" y="649" width="1" height="54" fill="#c0c0c0" /><rect x="786" y="649" width="1" height="50" fill="#c0c0c0" /><rect x="794" y="649" width="1" height="45" fill="#c0c0c0" /><rect x="802" y="649" width="1" height="38" fill="#c0c0c0" /><rect x="810" y="649" width="1" height="34" fill="#c0c0c0" /><rect x="818" y="649" width="1" height="34" fill="#c0c0c0" /><rect x="826" y="649" width="1" height="31" fill="#c0c0c0" /><rect x="834" y="649" width="1" height="30" fill="#c0c0c0" /><rect x="842" y="649" width="1" height="30" fill="#c0c0c0" /><rect x="850" y="649" width="1" height="30" fill="#c0c0c0" /><rect x="858" y="649" width="1" height="27" fill="#c0c0c0" /><rect x="866" y="649" width="1" height="30" fill="#c0c0c0" /><rect x="874" y="649" width="1" height="23" fill="#c0c0c0" /><rect x="882" y="649" width="1" height="16" fill="#c0c0c0" /><rect x="890" y="649" width="1" height="10" fill="#c0c0c0" /><rect x="898" y="649" width="1" height="4" fill="#c0c0c0" /><rect x="906" y="649" width="1" height="2" fill="#c0c0c0" /><rect x="914" y="647" width="1" height="3" fill="#c0c0c0" /><rect x="922" y="645" width="1" height="5" fill="#c0c0c0" /><rect x="930" y="643" width="1" height="7" fill="#c0c0c0" /><rect x="938" y="640" width="1" height="10" fill="#c0c0c0" /><rect x="946" y="636" width="1" height="14" fill="#c0c0c0" /><rect x="954" y="633" width="1" height="17" fill="#c0c0c0" /><rect x="962" y="632" width="1" height="18" fill="#c0c0c0" /><rect x="970" y="631" width="1" height="19" fill="#c0c0c0" /><rect x="978" y="634" width="1" height="16" fill="#c0c0c0" /><rect x="986" y="639" width="1" height="11" fill="#c0c0c0" /><rect x="994" y="638" width="1" height="12" fill="#c0c0c0" /><rect x="1002" y="637" width="1" height="13" fill="#c0c0c0" /><rect x="1010" y="641" width="1" height="9" fill="#c0c0c0" /><rect x="1018" y="644" width="1" height="6" fill="#c0c0c0" /><rect x="1026" y="646" width="1" height="4" fill="#c0c0c0" /><rect x="1034" y="649" width="1" height="2" fill="#c0c0c0" /><rect x="1042" y="649" width="1" height="8" fill="#c0c0c0" /><rect x="1050" y="649" width="1" height="16" fill="#c0c0c0" /><rect x="1058" y="649" width="1" height="28" fill="#c0c0c0" /><rect x="1066" y="649" width="1" height="36" fill="#c0c0c0" /><rect x="1074" y="649" width="1" height="40" fill="#c0c0c0" /><rect x="1082" y="649" width="1" height="41" fill="#c0c0c0" /><rect x="1090" y="649" width="1" height="53" fill="#c0c0c0" /><rect x="1098" y="649" width="1" height="60" fill="#c0c0c0" /><rect x="1106" y="649" width="1" height="64" fill="#c0c0c0" /><rect x="1114" y="649" width="1" height="67" fill="#c0c0c0" /><rect x="1122" y="649" width="1" height="64" fill="#c0c0c0" /><rect x="1130" y="649" width="1" height="60" fill="#c0c0c0" /><rect x="1138" y="649" width="1" height="58" fill="#c0c0c0" /><rect x="1146" y="649" width="1" height="59" fill="#c0c0c0" /><rect x="1154" y="649" width="1" height="57" fill="#c0c0c0" /><rect x="1162" y="649" width="1" height="57" fill="#c0c0c0" /><rect x="1170" y="649" width="1" height="52" fill="#c0c0c0" /><rect x="1178" y="649" width="1" height="47" fill="#c0c0c0" /><rect x="1186" y="649" width="1" height="45" fill="#c0c0c0" /><rect x="1194" y="649" width="1" height="41" fill="#c0c0c0" /><rect x="1202" y="649" width="1" height="39" fill="#c0c0c0" /><rect x="1210" y="649" width="1" height="35" fill="#c0c0c0" /><rect x="1218" y="649" width="1" height="38" fill="#c0c0c0" /><rect x="1226" y="649" width="1" height="40" fill="#c0c0c0" /><rect x="1234" y="649" width="1" height="38" fill="#c0c0c0" /><rect x="1242" y="649" width="1" height="40" fill="#c0c0c0" /><rect x="1250" y="649" width="1" height="39" fill="#c0c0c0" /><rect x="1258" y="649" width="1" height="38" fill="#c0c0c0" /><rect x="1266" y="649" width="1" height="33" fill="#c0c0c0" /><rect x="1274" y="649" width="1" height="26" fill="#c0c0c0" /><rect x="1282" y="649" width="1" height="20" fill="#c0c0c0" /><rect x="1290" y="649" width="1" height="13" fill="#c0c0c0" /><rect x="1298" y="649" width="1" height="4" fill="#c0c0c0" /><rect x="1306" y="642" width="1" height="8" fill="#c0c0c0" /><rect x="1314" y="638" width="1" height="12" fill="#c0c0c0" /><rect x="1322" y="638" width="1" height="12" fill="#c0c0c0" /><rect x="1330" y="635" width="1" height="15" fill="#c0c0c0" /><rect x="1338" y="632" width="1" height="18" fill="#c0c0c0" /><rect x="1346" y="628" width="1" height="22" fill="#c0c0c0" /><rect x="1354" y="626" width="1" height="24" fill="#c0c0c0" /><rect x="1362" y="622" width="1" height="28" fill="#c0c0c0" /><rect x="1370" y="617" width="1" height="33" fill="#c0c0c0" /><rect x="1378" y="612" width="1" height="38" fill="#c0c0c0" /><rect x="1386" y="606" width="1" height="44" fill="#c0c0c0" /><rect x="1394" y="602" width="1" height="48" fill="#c0c0c0" /><rect x="1402" y="597" width="1" height="53" fill="#c0c0c0" /><rect x="1410" y="597" width="1" height="53" fill="#c0c0c0" /><rect x="1418" y="598" width="1" height="52" fill="#c0c0c0" /><rect x="1426" y="598" width="1" height="52" fill="#c0c0c0" /></g><polyline points="-1.5,645.0 0.5,645.4 24.0,650.1 47.5,653.6 71.1,657.2 94.6,660.0 106.4,661.2 118.1,659.5 141.7,656.5 165.2,649.4 188.7,642.4 200.5,641.6 212.3,643.5 235.8,654.8 259.3,670.1 282.9,684.7 306.4,693.4 329.9,694.1 353.4,684.7 377.0,674.1 400.5,672.2 424.0,674.6 435.8,676.5 459.3,680.0 471.1,685.9 482.9,692.9 494.6,704.7 506.4,715.3 518.1,724.7 529.9,730.1 541.7,731.8 553.4,728.2 565.2,722.4 577.0,714.1 588.7,705.9 600.5,700.0 612.3,692.9 624.0,685.9 635.8,682.4 647.6,676.5 659.3,670.6 671.1,666.6 682.9,662.8 694.6,660.7 706.4,659.5 718.1,660.7 729.9,662.4 741.7,665.9 753.4,672.9 765.2,680.0 777.0,687.1 788.7,690.6 800.5,694.1 824.0,692.5 835.8,688.7 847.6,685.9 859.3,681.2 871.1,679.3 882.9,676.0 894.6,671.3 906.4,667.1 918.1,660.5 929.9,655.3 941.7,650.1 953.4,644.7 965.2,640.0 977.0,637.6 988.7,636.0 1000.5,634.8 1012.3,635.3 1024.0,636.5 1035.8,638.8 1047.6,644.7 1059.3,650.6 1071.1,659.5 1082.9,666.6 1094.6,677.6 1106.4,687.1 1118.1,697.6 1129.9,702.8 1141.7,706.6 1153.4,708.9 1165.2,708.2 1177.0,705.9 1188.7,703.5 1200.5,700.0 1212.3,697.2 1224.0,693.4 1235.8,689.4 1247.6,688.2 1259.3,687.5 1271.1,685.9 1282.9,682.8 1294.6,678.8 1306.4,670.6 1318.1,661.2 1329.4,654.5 1339.8,647.4 1346.4,644.1 1352.0,640.4 1357.7,636.6 1363.3,633.3 1369.9,630.5 1376.5,627.6 1382.1,625.3 1387.8,622.5 1393.4,619.5 1400.0,615.9 1405.7,612.6 1411.3,609.8 1417.9,606.7 1424.5,603.5 1426.5,602.4" fill="none" stroke="#ff0000" stroke-width="1" stroke-dasharray="3 3" shape-rendering="crispEdges"/><g stroke="#ff0000" fill="#ff0000" stroke-linecap="round" stroke-linejoin="round"><line x1="1286" y1="656" x2="1394" y2="600" stroke-width="3.2"/><polygon points="1391,596 1401,595 1395,603" stroke-width="1.5"/><line x1="1397" y1="595.5" x2="1423" y2="595.5" stroke-width="3"/><polygon points="1419,591.5 1430,595.5 1419,599.5" stroke-width="1.5"/></g><text x="0" y="596" font-size="10" fill="#000" text-anchor="start" font-weight="normal" textLength="126.00" lengthAdjust="spacingAndGlyphs" >MACD(12,26,9) 391.14 321.74</text></g><g clip-path="url(#crsi)"><line x1="1" y1="791.5" x2="1653" y2="791.5" stroke="#b4b4b4" stroke-width="1" stroke-dasharray="3 3" shape-rendering="crispEdges"/><line x1="1" y1="842.5" x2="1653" y2="842.5" stroke="#b4b4b4" stroke-width="1" stroke-dasharray="3 3" shape-rendering="crispEdges"/><line x1="1" y1="903.5" x2="1653" y2="903.5" stroke="#b4b4b4" stroke-width="1" stroke-dasharray="3 3" shape-rendering="crispEdges"/><polyline points="-5.5,840.4 2.5,840.4 10.5,853.7 18.5,856.2 26.5,856.2 34.5,862.3 42.5,858.5 50.5,857.5 58.5,842.3 66.5,837.6 74.5,857.1 82.5,853.3 90.5,854.1 98.5,863.2 106.5,839.5 114.5,836.3 122.5,833.2 130.5,831.9 138.5,821.8 146.5,820.5 154.5,820.5 162.5,832.5 170.5,837.0 178.5,837.6 186.5,846.5 194.5,864.7 202.5,867.0 210.5,868.3 218.5,869.5 226.5,876.1 234.5,872.3 242.5,875.2 250.5,871.2 258.5,885.6 266.5,891.1 274.5,881.3 282.5,881.3 290.5,868.5 298.5,865.0 306.5,844.4 314.5,848.2 322.5,853.2 330.5,850.9 338.5,837.3 346.5,842.1 354.5,839.4 362.5,842.1 370.5,860.2 378.5,861.5 386.5,869.4 394.5,866.2 402.5,869.4 410.5,863.2 418.5,844.4 426.5,844.4 434.5,853.5 442.5,857.9 450.5,876.1 458.5,882.1 466.5,883.9 474.5,895.3 482.5,895.3 490.5,883.5 498.5,860.9 506.5,857.1 514.5,865.0 522.5,860.6 530.5,854.4 538.5,854.4 546.5,857.9 554.5,854.4 562.5,842.1 570.5,846.1 578.5,848.2 586.5,852.1 594.5,851.4 602.5,852.3 610.5,844.4 618.5,848.2 626.5,847.3 634.5,839.8 642.5,838.0 650.5,838.0 658.5,838.0 666.5,843.8 674.5,850.0 682.5,846.5 690.5,852.1 698.5,854.9 706.5,858.8 714.5,868.0 722.5,859.3 730.5,862.3 738.5,872.9 746.5,876.5 754.5,886.2 762.5,881.8 770.5,860.6 778.5,865.0 786.5,850.9 794.5,847.3 802.5,847.3 810.5,845.6 818.5,855.3 826.5,852.3 834.5,851.8 842.5,857.1 850.5,853.5 858.5,850.4 866.5,860.2 874.5,837.6 882.5,833.2 890.5,833.2 898.5,831.5 906.5,830.6 914.5,836.2 922.5,837.3 930.5,833.2 938.5,829.2 946.5,824.4 954.5,824.4 962.5,830.2 970.5,827.4 978.5,842.6 986.5,851.4 994.5,834.5 1002.5,833.2 1010.5,850.0 1018.5,845.6 1026.5,846.5 1034.5,856.2 1042.5,860.6 1050.5,866.8 1058.5,877.0 1066.5,871.5 1074.5,867.6 1082.5,863.8 1090.5,881.2 1098.5,876.5 1106.5,877.3 1114.5,872.1 1122.5,862.3 1130.5,857.9 1138.5,859.7 1146.5,866.8 1154.5,863.2 1162.5,865.0 1170.5,852.1 1178.5,854.4 1186.5,857.0 1194.5,850.5 1202.5,853.5 1210.5,849.1 1218.5,864.5 1226.5,864.5 1234.5,859.7 1242.5,860.6 1250.5,863.2 1258.5,862.0 1266.5,840.3 1274.5,836.2 1282.5,838.5 1290.5,830.6 1298.5,817.4 1306.5,819.1 1314.5,829.7 1322.5,834.5 1330.5,832.0 1338.5,827.1 1346.5,822.6 1354.5,827.4 1362.5,819.6 1370.5,814.4 1378.5,812.1 1386.5,805.9 1394.5,804.5 1402.5,809.1 1410.5,812.9 1418.5,810.3 1426.5,810.3" fill="none" stroke="#1e90ff" stroke-width="1" shape-rendering="crispEdges"/><g stroke="#ff0000" fill="#ff0000" stroke-linecap="round" stroke-linejoin="round"><line x1="1373" y1="808" x2="1416" y2="809.5" stroke-width="3"/><polygon points="1412,805.5 1423,809.8 1412,813.5" stroke-width="1"/></g><text x="0" y="768" font-size="10" fill="#000" text-anchor="start" font-weight="normal" textLength="65.50" lengthAdjust="spacingAndGlyphs" >RSI(14) 68.8868</text></g><g shape-rendering="crispEdges"><rect x="0" y="28" width="1654" height="1" fill="#000" /><rect x="1653" y="28" width="1" height="554" fill="#000" /><rect x="0" y="581" width="1654" height="1" fill="#000" /><rect x="0" y="583" width="1654" height="1" fill="#000" /><rect x="1653" y="583" width="1" height="170" fill="#000" /><rect x="0" y="752" width="1654" height="1" fill="#000" /><rect x="0" y="755" width="1654" height="1" fill="#000" /><rect x="1653" y="755" width="1" height="175" fill="#000" /><rect x="0" y="929" width="1654" height="1" fill="#000" /><rect x="1699" y="26" width="1" height="922" fill="#d8d8d8" /></g><polygon points="1432,29 1441,29 1436.5,33.5" fill="#b0b0b0"/><rect x="1654" y="50" width="3" height="1" fill="#000" /><text x="1659" y="53.6" font-size="10" fill="#000" text-anchor="start" font-weight="normal" textLength="32.53" lengthAdjust="spacingAndGlyphs" >29296.0</text><rect x="1654" y="83" width="3" height="1" fill="#000" /><text x="1659" y="86.6" font-size="10" fill="#000" text-anchor="start" font-weight="normal" textLength="32.53" lengthAdjust="spacingAndGlyphs" >28939.0</text><rect x="1654" y="116" width="3" height="1" fill="#000" /><text x="1659" y="119.6" font-size="10" fill="#000" text-anchor="start" font-weight="normal" textLength="32.53" lengthAdjust="spacingAndGlyphs" >28571.5</text><rect x="1654" y="149" width="3" height="1" fill="#000" /><text x="1659" y="152.6" font-size="10" fill="#000" text-anchor="start" font-weight="normal" textLength="32.53" lengthAdjust="spacingAndGlyphs" >28214.5</text><rect x="1654" y="182" width="3" height="1" fill="#000" /><text x="1659" y="185.6" font-size="10" fill="#000" text-anchor="start" font-weight="normal" textLength="32.53" lengthAdjust="spacingAndGlyphs" >27857.5</text><rect x="1654" y="215" width="3" height="1" fill="#000" /><text x="1659" y="218.6" font-size="10" fill="#000" text-anchor="start" font-weight="normal" textLength="32.53" lengthAdjust="spacingAndGlyphs" >27490.0</text><rect x="1654" y="248" width="3" height="1" fill="#000" /><text x="1659" y="251.6" font-size="10" fill="#000" text-anchor="start" font-weight="normal" textLength="32.53" lengthAdjust="spacingAndGlyphs" >27133.0</text><rect x="1654" y="281" width="3" height="1" fill="#000" /><text x="1659" y="284.6" font-size="10" fill="#000" text-anchor="start" font-weight="normal" textLength="32.53" lengthAdjust="spacingAndGlyphs" >26776.0</text><rect x="1654" y="314" width="3" height="1" fill="#000" /><text x="1659" y="317.6" font-size="10" fill="#000" text-anchor="start" font-weight="normal" textLength="32.53" lengthAdjust="spacingAndGlyphs" >26408.5</text><rect x="1654" y="347" width="3" height="1" fill="#000" /><text x="1659" y="350.6" font-size="10" fill="#000" text-anchor="start" font-weight="normal" textLength="32.53" lengthAdjust="spacingAndGlyphs" >26051.0</text><rect x="1654" y="380" width="3" height="1" fill="#000" /><text x="1659" y="383.6" font-size="10" fill="#000" text-anchor="start" font-weight="normal" textLength="32.53" lengthAdjust="spacingAndGlyphs" >25694.5</text><rect x="1654" y="413" width="3" height="1" fill="#000" /><text x="1659" y="416.6" font-size="10" fill="#000" text-anchor="start" font-weight="normal" textLength="32.53" lengthAdjust="spacingAndGlyphs" >25327.0</text><rect x="1654" y="446" width="3" height="1" fill="#000" /><text x="1659" y="449.6" font-size="10" fill="#000" text-anchor="start" font-weight="normal" textLength="32.53" lengthAdjust="spacingAndGlyphs" >24970.0</text><rect x="1654" y="479" width="3" height="1" fill="#000" /><text x="1659" y="482.6" font-size="10" fill="#000" text-anchor="start" font-weight="normal" textLength="32.53" lengthAdjust="spacingAndGlyphs" >24613.0</text><rect x="1654" y="512" width="3" height="1" fill="#000" /><text x="1659" y="515.6" font-size="10" fill="#000" text-anchor="start" font-weight="normal" textLength="32.53" lengthAdjust="spacingAndGlyphs" >24245.5</text><rect x="1654" y="545" width="3" height="1" fill="#000" /><text x="1659" y="548.6" font-size="10" fill="#000" text-anchor="start" font-weight="normal" textLength="32.53" lengthAdjust="spacingAndGlyphs" >23888.5</text><rect x="1654" y="578" width="3" height="1" fill="#000" /><text x="1659" y="581.6" font-size="10" fill="#000" text-anchor="start" font-weight="normal" textLength="32.53" lengthAdjust="spacingAndGlyphs" >23531.5</text><rect x="1655" y="292" width="41" height="11" fill="#ff0000" /><text x="1659" y="301" font-size="10" fill="#fff" text-anchor="start" font-weight="normal" textLength="33.00" lengthAdjust="spacingAndGlyphs" >26585.8</text><rect x="1655" y="317" width="41" height="11" fill="#ff0000" /><text x="1659" y="326" font-size="10" fill="#fff" text-anchor="start" font-weight="normal" textLength="33.00" lengthAdjust="spacingAndGlyphs" >26313.2</text><rect x="1655" y="336" width="41" height="11" fill="#000000" /><text x="1659" y="345" font-size="10" fill="#fff" text-anchor="start" font-weight="normal" textLength="33.00" lengthAdjust="spacingAndGlyphs" >26104.0</text><rect x="1655" y="340" width="41" height="11" fill="#32cd32" /><text x="1659" y="349" font-size="10" fill="#fff" text-anchor="start" font-weight="normal" textLength="33.00" lengthAdjust="spacingAndGlyphs" >26062.4</text><rect x="1655" y="366" width="41" height="11" fill="#0000ff" /><text x="1659" y="375" font-size="10" fill="#fff" text-anchor="start" font-weight="normal" textLength="33.00" lengthAdjust="spacingAndGlyphs" >25778.9</text><rect x="1655" y="386" width="41" height="11" fill="#0000ff" /><text x="1659" y="395" font-size="10" fill="#fff" text-anchor="start" font-weight="normal" textLength="33.00" lengthAdjust="spacingAndGlyphs" >25560.9</text><rect x="1654" y="585" width="3" height="1" fill="#000" /><text x="1658" y="594" font-size="10" fill="#000" text-anchor="start" font-weight="normal" textLength="27.52" lengthAdjust="spacingAndGlyphs" >443.42</text><rect x="1654" y="649" width="3" height="1" fill="#000" /><text x="1658" y="653" font-size="10" fill="#000" text-anchor="start" font-weight="normal" textLength="17.51" lengthAdjust="spacingAndGlyphs" >0.00</text><text x="1658" y="750" font-size="10" fill="#000" text-anchor="start" font-weight="normal" textLength="30.52" lengthAdjust="spacingAndGlyphs" >-706.76</text><text x="1658" y="766" font-size="10" fill="#000" text-anchor="start" font-weight="normal" textLength="15.01" lengthAdjust="spacingAndGlyphs" >100</text><rect x="1654" y="791" width="3" height="1" fill="#000" /><text x="1658" y="794.6" font-size="10" fill="#000" text-anchor="start" font-weight="normal" textLength="10.01" lengthAdjust="spacingAndGlyphs" >80</text><rect x="1654" y="842" width="3" height="1" fill="#000" /><text x="1658" y="845.6" font-size="10" fill="#000" text-anchor="start" font-weight="normal" textLength="10.01" lengthAdjust="spacingAndGlyphs" >50</text><rect x="1654" y="903" width="3" height="1" fill="#000" /><text x="1658" y="906.6" font-size="10" fill="#000" text-anchor="start" font-weight="normal" textLength="10.01" lengthAdjust="spacingAndGlyphs" >15</text><text x="1658" y="926" font-size="10" fill="#000" text-anchor="start" font-weight="normal" textLength="5.00" lengthAdjust="spacingAndGlyphs" >0</text><rect x="58" y="930" width="1" height="3" fill="#000" /><text x="58" y="942" font-size="10" fill="#000" text-anchor="start" font-weight="normal" textLength="52.04" lengthAdjust="spacingAndGlyphs" >18 Jun 01:15</text><rect x="122" y="930" width="1" height="3" fill="#000" /><text x="122" y="942" font-size="10" fill="#000" text-anchor="start" font-weight="normal" textLength="52.04" lengthAdjust="spacingAndGlyphs" >24 Jun 01:15</text><rect x="186" y="930" width="1" height="3" fill="#000" /><text x="186" y="942" font-size="10" fill="#000" text-anchor="start" font-weight="normal" textLength="52.04" lengthAdjust="spacingAndGlyphs" >30 Jun 05:00</text><rect x="250" y="930" width="1" height="3" fill="#000" /><text x="250" y="942" font-size="10" fill="#000" text-anchor="start" font-weight="normal" textLength="44.03" lengthAdjust="spacingAndGlyphs" >7 Jul 05:00</text><rect x="314" y="930" width="1" height="3" fill="#000" /><text x="314" y="942" font-size="10" fill="#000" text-anchor="start" font-weight="normal" textLength="49.03" lengthAdjust="spacingAndGlyphs" >13 Jul 05:00</text><rect x="378" y="930" width="1" height="3" fill="#000" /><text x="378" y="942" font-size="10" fill="#000" text-anchor="start" font-weight="normal" textLength="49.03" lengthAdjust="spacingAndGlyphs" >19 Jul 05:00</text><rect x="442" y="930" width="1" height="3" fill="#000" /><text x="442" y="942" font-size="10" fill="#000" text-anchor="start" font-weight="normal" textLength="49.03" lengthAdjust="spacingAndGlyphs" >23 Jul 05:00</text><rect x="506" y="930" width="1" height="3" fill="#000" /><text x="506" y="942" font-size="10" fill="#000" text-anchor="start" font-weight="normal" textLength="49.03" lengthAdjust="spacingAndGlyphs" >29 Jul 05:00</text><rect x="570" y="930" width="1" height="3" fill="#000" /><text x="570" y="942" font-size="10" fill="#000" text-anchor="start" font-weight="normal" textLength="48.04" lengthAdjust="spacingAndGlyphs" >4 Aug 05:00</text><rect x="634" y="930" width="1" height="3" fill="#000" /><text x="634" y="942" font-size="10" fill="#000" text-anchor="start" font-weight="normal" textLength="53.05" lengthAdjust="spacingAndGlyphs" >10 Aug 05:00</text><rect x="698" y="930" width="1" height="3" fill="#000" /><text x="698" y="942" font-size="10" fill="#000" text-anchor="start" font-weight="normal" textLength="53.05" lengthAdjust="spacingAndGlyphs" >16 Aug 05:00</text><rect x="762" y="930" width="1" height="3" fill="#000" /><text x="762" y="942" font-size="10" fill="#000" text-anchor="start" font-weight="normal" textLength="53.05" lengthAdjust="spacingAndGlyphs" >20 Aug 05:00</text><rect x="826" y="930" width="1" height="3" fill="#000" /><text x="826" y="942" font-size="10" fill="#000" text-anchor="start" font-weight="normal" textLength="53.05" lengthAdjust="spacingAndGlyphs" >26 Aug 05:00</text><rect x="890" y="930" width="1" height="3" fill="#000" /><text x="890" y="942" font-size="10" fill="#000" text-anchor="start" font-weight="normal" textLength="48.54" lengthAdjust="spacingAndGlyphs" >1 Sep 05:00</text><rect x="954" y="930" width="1" height="3" fill="#000" /><text x="954" y="942" font-size="10" fill="#000" text-anchor="start" font-weight="normal" textLength="48.54" lengthAdjust="spacingAndGlyphs" >7 Sep 05:00</text><rect x="1018" y="930" width="1" height="3" fill="#000" /><text x="1018" y="942" font-size="10" fill="#000" text-anchor="start" font-weight="normal" textLength="53.54" lengthAdjust="spacingAndGlyphs" >13 Sep 05:00</text><rect x="1082" y="930" width="1" height="3" fill="#000" /><text x="1082" y="942" font-size="10" fill="#000" text-anchor="start" font-weight="normal" textLength="53.54" lengthAdjust="spacingAndGlyphs" >17 Sep 05:00</text><rect x="1146" y="930" width="1" height="3" fill="#000" /><text x="1146" y="942" font-size="10" fill="#000" text-anchor="start" font-weight="normal" textLength="53.54" lengthAdjust="spacingAndGlyphs" >24 Sep 05:00</text><rect x="1210" y="930" width="1" height="3" fill="#000" /><text x="1210" y="942" font-size="10" fill="#000" text-anchor="start" font-weight="normal" textLength="53.54" lengthAdjust="spacingAndGlyphs" >30 Sep 05:00</text><rect x="1274" y="930" width="1" height="3" fill="#000" /><text x="1274" y="942" font-size="10" fill="#000" text-anchor="start" font-weight="normal" textLength="46.53" lengthAdjust="spacingAndGlyphs" >7 Oct 05:00</text><rect x="1338" y="930" width="1" height="3" fill="#000" /><text x="1338" y="942" font-size="10" fill="#000" text-anchor="start" font-weight="normal" textLength="51.53" lengthAdjust="spacingAndGlyphs" >15 Oct 01:15</text><rect x="1402" y="930" width="1" height="3" fill="#000" /><text x="1402" y="942" font-size="10" fill="#000" text-anchor="start" font-weight="normal" textLength="51.53" lengthAdjust="spacingAndGlyphs" >21 Oct 01:15</text><text x="42" y="942" font-size="10" fill="#000" text-anchor="end" font-weight="normal" textLength="48.87" lengthAdjust="spacingAndGlyphs" >11 Jun 2021</text><rect x="0" y="0" width="1700" height="24" fill="#f0f0f0" /><rect x="0" y="24" width="1700" height="2" fill="url(#gtb)" /><circle cx="0" cy="10" r="5" fill="#dbe8f8" stroke="#5a8ad0" stroke-width="1.5"/><line x1="3" y1="14" x2="6" y2="19" stroke="#c8a030" stroke-width="2.5"/><rect x="14" y="2" width="1" height="20" fill="#a0a0a0" /><rect x="15" y="2" width="1" height="20" fill="#ffffff" /><path d="M25,4 h9 l3,3 v11 h-12z" fill="#f4f4f4" stroke="#606060" stroke-width="1"/><rect x="27" y="7" width="6" height="1" fill="#909090"/><rect x="27" y="10" width="6" height="1" fill="#909090"/><path d="M31,11 h3 v3 h3 v3 h-3 v4 h-3 v-4 h-3 v-3 h3z" fill="#2ac02a" stroke="#118811" stroke-width="0.7"/><path transform="translate(43.0,4.5)" d="M1,2.5h5 M3.5,0.5v1.5 M1,5h5 M1.5,3.5l1,1.5 M5.5,3.5l-1,1.5 M3.5,5v6 M0.5,7.5h6 M1.5,10l2,-2 M5.5,10l-2,-2 M11,0.5l-3,1v5c0,2-0.5,4-1,5 M8,5.5h3.5 M10,5.5v6" stroke="#111" stroke-width="1.15" fill="none"/><path transform="translate(55.2,4.5)" d="M1,1l1.5,1.5 M0.5,4.5h2v5l1.5,-1.5 M4.5,1.5h7 M8.5,1.5v9.5l-1.5,-1" stroke="#111" stroke-width="1.15" fill="none"/><path transform="translate(67.4,4.5)" d="M3,0.5l1.5,1.5 M8.5,0.5l-1.5,1.5 M2,2.5h8v6h-8z M2,5.5h8 M6,2.5v9 M0.5,9.5h11" stroke="#111" stroke-width="1.15" fill="none"/><path d="M91,12.5 L100,20 L106.5,13.5 L106.5,11.5 L100,17.5 L91,10.5z" fill="#b88a28" stroke="#8a6010" stroke-width="0.6"/><path d="M91,10.5 L97.5,4.5 L106.5,11.5 L100,17.5z" fill="#f0c840" stroke="#a07818" stroke-width="0.8"/><path d="M93,10.5 L98,6.5 L104,11" stroke="#fae890" stroke-width="1" fill="none"/><rect x="122" y="4" width="10" height="11" fill="#4a90e0" stroke="#2060b0" stroke-width="1"/><rect x="124" y="7" width="6" height="2" fill="#ffffff"/><path d="M121,20 a3,3 0 0 1 1,-5 a3.5,3.5 0 0 1 6,-1.5 a3,3 0 0 1 5,2 a2.2,2.2 0 0 1 0,4.5z" fill="#eef2f8" stroke="#8a96b0" stroke-width="1"/><circle cx="155" cy="12" r="7" fill="none" stroke="#9ab0d0" stroke-width="1"/><circle cx="155" cy="12" r="4.5" fill="none" stroke="#7090c8" stroke-width="1"/><circle cx="155" cy="12" r="1.8" fill="#3050c0"/><line x1="155.5" y1="12" x2="155.5" y2="19" stroke="#20a020" stroke-width="1.5"/><path d="M155.5,19 a7,7 0 0 0 6,-4" fill="none" stroke="#40b040" stroke-width="1.3"/><ellipse cx="182" cy="10" rx="8" ry="3" fill="#5aa0d8" stroke="#3070a0" stroke-width="0.8"/><ellipse cx="182" cy="8" rx="4" ry="3.5" fill="#70b4e8"/><path d="M175,11 l7,8 l7,-8z" fill="#f0d050" stroke="#b09020" stroke-width="0.8"/><circle cx="187" cy="16" r="4.2" fill="#d02010"/><rect x="185.6" y="14.6" width="2.8" height="2.8" fill="#ffffff"/><path transform="translate(196.0,4.5)" d="M5,0.5l-1,1.5 M2,2h8v9.5h-8z M2,5h8 M2,8h8" stroke="#111" stroke-width="1.15" fill="none"/><path transform="translate(208.2,4.5)" d="M0.5,2h5 M1,5h5 M3,5l-2,5h4.5 M4.5,8l1.5,2 M6.5,3h5v6.5c0,1.5-0.5,2-2,1.5 M9,0.5v4c0,3-1,5-3,7" stroke="#111" stroke-width="1.15" fill="none"/><path transform="translate(220.4,4.5)" d="M6,0.5v1.5 M0.5,2.5h11 M3.5,3.5l-2.5,2.5 M8.5,3.5l2.5,2.5 M3,6l6,5.5 M9,6l-7.5,5.5" stroke="#111" stroke-width="1.15" fill="none"/><path transform="translate(232.6,4.5)" d="M2.5,0.5h7v4.5h-7z M2.5,2.7h7 M3.5,5.5l-2.5,2.5 M3,6.5h8c0,3-0.5,5-2,5 M5.5,6.5c-0.5,2-1.5,3.5-3,4.5 M8,6.5c-0.5,2-1.5,3.5-3,4.5" stroke="#111" stroke-width="1.15" fill="none"/><rect x="250" y="2" width="1" height="20" fill="#a0a0a0" /><rect x="251" y="2" width="1" height="20" fill="#ffffff" /><rect x="254" y="3" width="3" height="1" fill="#a8a8a8" /><rect x="254" y="5" width="3" height="1" fill="#a8a8a8" /><rect x="254" y="7" width="3" height="1" fill="#a8a8a8" /><rect x="254" y="9" width="3" height="1" fill="#a8a8a8" /><rect x="254" y="11" width="3" height="1" fill="#a8a8a8" /><rect x="254" y="13" width="3" height="1" fill="#a8a8a8" /><rect x="254" y="15" width="3" height="1" fill="#a8a8a8" /><rect x="254" y="17" width="3" height="1" fill="#a8a8a8" /><rect x="254" y="19" width="3" height="1" fill="#a8a8a8" /><path d="M268,6 v13 M266,18 h13" stroke="#505050" stroke-width="1.2" fill="none"/><path d="M266,8 l2,-2 l2,2 M277,16 l2,2 l-2,2" stroke="#505050" stroke-width="1" fill="none"/><path d="M273,15 h2 v-8 h2" stroke="#10a010" stroke-width="1.5" fill="none"/><rect x="288" y="0" width="25" height="22" fill="#f7f7f7" /><rect x="288" y="0" width="25" height="1" fill="#a0a0a0" /><rect x="288" y="0" width="1" height="22" fill="#a0a0a0" /><path d="M296,6 v13 M294,18 h13" stroke="#505050" stroke-width="1.2" fill="none"/><path d="M294,8 l2,-2 l2,2 M305,16 l2,2 l-2,2" stroke="#505050" stroke-width="1" fill="none"/><rect x="300" y="6" width="4" height="8" fill="#30d030" stroke="#108010" stroke-width="0.8"/><rect x="301.5" y="4" width="1" height="12" fill="#108010"/><path d="M324,6 v13 M322,18 h13" stroke="#505050" stroke-width="1.2" fill="none"/><path d="M322,8 l2,-2 l2,2 M333,16 l2,2 l-2,2" stroke="#505050" stroke-width="1" fill="none"/><path d="M324,14 q5,-8 8,-5 t4,3" stroke="#20a020" stroke-width="1.2" fill="none"/><rect x="345" y="2" width="1" height="20" fill="#a0a0a0" /><rect x="346" y="2" width="1" height="20" fill="#ffffff" /><circle cx="360" cy="10" r="5.5" fill="#cfe2f8" stroke="#3a7ad0" stroke-width="1.5"/><line x1="364" y1="14" x2="369" y2="19" stroke="#c8a830" stroke-width="2.5"/><rect x="357" y="9" width="6" height="2" fill="#3a7ad0"/><rect x="359" y="7" width="2" height="6" fill="#3a7ad0"/><circle cx="388" cy="10" r="5.5" fill="#cfe2f8" stroke="#3a7ad0" stroke-width="1.5"/><line x1="392" y1="14" x2="397" y2="19" stroke="#c8a830" stroke-width="2.5"/><rect x="385" y="9" width="6" height="2" fill="#3a7ad0"/><rect x="410" y="4" width="8" height="7" fill="#40a030"/><rect x="418" y="4" width="8" height="7" fill="#2050c0"/><rect x="410" y="12" width="8" height="7" fill="#2050c0"/><rect x="418" y="12" width="8" height="7" fill="#40a030"/><rect x="411" y="7" width="6" height="2" fill="#ffffff"/><rect x="419" y="7" width="6" height="2" fill="#ffffff"/><rect x="411" y="15" width="6" height="2" fill="#ffffff"/><rect x="419" y="15" width="6" height="2" fill="#ffffff"/><rect x="435" y="2" width="1" height="20" fill="#a0a0a0" /><rect x="436" y="2" width="1" height="20" fill="#ffffff" /><rect x="440" y="0" width="25" height="22" fill="#f7f7f7" /><rect x="440" y="0" width="25" height="1" fill="#a0a0a0" /><rect x="440" y="0" width="1" height="22" fill="#a0a0a0" /><path d="M448,6 v13 M446,18 h13" stroke="#505050" stroke-width="1.2" fill="none"/><path d="M446,8 l2,-2 l2,2 M457,16 l2,2 l-2,2" stroke="#505050" stroke-width="1" fill="none"/><polygon points="452,8 452,15 457,11.5" fill="#20b020"/><rect x="468" y="0" width="25" height="22" fill="#f7f7f7" /><rect x="468" y="0" width="25" height="1" fill="#a0a0a0" /><rect x="468" y="0" width="1" height="22" fill="#a0a0a0" /><path d="M476,6 v13 M474,18 h13" stroke="#505050" stroke-width="1.2" fill="none"/><path d="M474,8 l2,-2 l2,2 M485,16 l2,2 l-2,2" stroke="#505050" stroke-width="1" fill="none"/><rect x="482" y="5" width="1.2" height="11" fill="#2060a0"/><polygon points="483,10.5 488,8 488,13" fill="#e05010"/><rect x="485" y="10" width="4" height="1.3" fill="#e05010"/><rect x="497" y="2" width="1" height="20" fill="#a0a0a0" /><rect x="498" y="2" width="1" height="20" fill="#ffffff" /><path d="M507,5 h7 l3,3 v10 h-10z" fill="#f4f4f4" stroke="#707070" stroke-width="1"/><path d="M514,12 h3 v3 h3 v3 h-3 v3 h-3 v-3 h-3 v-3 h3z" fill="#30c030" stroke="#119911" stroke-width="0.7"/><polygon points="529,11 535,11 532,14" fill="#000"/><circle cx="553" cy="12" r="7.5" fill="#2a6ac8"/><circle cx="553" cy="12" r="5.5" fill="#f4f8ff"/><path d="M553,8 v4 h3" stroke="#333" stroke-width="1" fill="none"/><polygon points="568,11 574,11 571,14" fill="#000"/><rect x="584" y="5" width="16" height="14" fill="#eef4fc" stroke="#3a6ab8" stroke-width="1"/><rect x="584" y="5" width="16" height="3" fill="#3a6ab8"/><path d="M586,13 l3,-2 l3,1 l3,-2 l3,1" stroke="#c03020" stroke-width="1" fill="none"/><path d="M586,17 l3,-2 l3,1 l3,-2 l3,1" stroke="#20a020" stroke-width="1" fill="none"/><polygon points="607,11 613,11 610,14" fill="#000"/><rect x="618" y="2" width="1" height="20" fill="#a0a0a0" /><rect x="619" y="2" width="1" height="20" fill="#ffffff" /><rect x="622" y="3" width="3" height="1" fill="#a8a8a8" /><rect x="622" y="5" width="3" height="1" fill="#a8a8a8" /><rect x="622" y="7" width="3" height="1" fill="#a8a8a8" /><rect x="622" y="9" width="3" height="1" fill="#a8a8a8" /><rect x="622" y="11" width="3" height="1" fill="#a8a8a8" /><rect x="622" y="13" width="3" height="1" fill="#a8a8a8" /><rect x="622" y="15" width="3" height="1" fill="#a8a8a8" /><rect x="622" y="17" width="3" height="1" fill="#a8a8a8" /><rect x="622" y="19" width="3" height="1" fill="#a8a8a8" /><rect x="628" y="0" width="25" height="22" fill="#f7f7f7" /><rect x="628" y="0" width="25" height="1" fill="#a0a0a0" /><rect x="628" y="0" width="1" height="22" fill="#a0a0a0" /><path d="M636,5 v13 l3,-3 l2,4 l2,-1 l-2,-4 h4z" fill="#404040"/><path d="M668.5,5 v15 M661,12.5 h15" stroke="#505050" stroke-width="1.2"/><rect x="685" y="2" width="1" height="20" fill="#a0a0a0" /><rect x="686" y="2" width="1" height="20" fill="#ffffff" /><rect x="702" y="6" width="1.3" height="13" fill="#505050"/><rect x="725" y="12" width="12" height="1.3" fill="#505050"/><line x1="753" y1="19" x2="765" y2="7" stroke="#505050" stroke-width="1"/><path d="M779,13.5 l7.5,-7.5 M784,18.5 l9,-9 M781.5,12 l1.5,5.5 M785.5,9 l1,5 M790,4.5 l0.5,5" stroke="#404040" stroke-width="1" fill="none"/><path d="M794,16.5 h-3.6 v4.2 h3.6 M790.4,18.6 h3" stroke="#404040" stroke-width="1.3" fill="none"/><path d="M808,5.5 h14 M808,8.5 h14 M808,12.5 h14 M808,16.5 h10" stroke="#505050" stroke-width="1" stroke-dasharray="1 1" fill="none" shape-rendering="crispEdges"/><path d="M822.5,16.5 h-3.4 v4.5 M819.1,18.7 h2.8" stroke="#404040" stroke-width="1.3" fill="none"/><text x="838" y="17" font-size="12" fill="#505050" text-anchor="start" font-weight="bold" textLength="8.67" lengthAdjust="spacingAndGlyphs" >A</text><rect x="864.5" y="5.5" width="12" height="13" fill="none" stroke="#606060" stroke-width="1" stroke-dasharray="1 1" shape-rendering="crispEdges"/><text x="866" y="17" font-size="12" fill="#505050" text-anchor="start" font-weight="bold" textLength="7.33" lengthAdjust="spacingAndGlyphs" >T</text><path d="M893,9 l3,-3 l3,3 l-3,3z M901,16 l3,-3 l3,3 l-3,3z" fill="#505050"/><path d="M894,12 l3,3 l5,-6" stroke="#505050" stroke-width="1.3" fill="none"/><polygon points="912,11 918,11 915,14" fill="#000"/><rect x="924" y="2" width="1" height="20" fill="#a0a0a0" /><rect x="925" y="2" width="1" height="20" fill="#ffffff" /><rect x="928" y="3" width="3" height="1" fill="#a8a8a8" /><rect x="928" y="5" width="3" height="1" fill="#a8a8a8" /><rect x="928" y="7" width="3" height="1" fill="#a8a8a8" /><rect x="928" y="9" width="3" height="1" fill="#a8a8a8" /><rect x="928" y="11" width="3" height="1" fill="#a8a8a8" /><rect x="928" y="13" width="3" height="1" fill="#a8a8a8" /><rect x="928" y="15" width="3" height="1" fill="#a8a8a8" /><rect x="928" y="17" width="3" height="1" fill="#a8a8a8" /><rect x="928" y="19" width="3" height="1" fill="#a8a8a8" /><rect x="1074" y="0" width="25" height="22" fill="#f7f7f7" /><rect x="1074" y="0" width="25" height="1" fill="#a0a0a0" /><rect x="1074" y="0" width="1" height="22" fill="#a0a0a0" /><text x="940" y="16" font-size="10" fill="#3a3a3a" text-anchor="start" font-weight="normal" textLength="12.50" lengthAdjust="spacingAndGlyphs" >M1</text><text x="968" y="16" font-size="10" fill="#3a3a3a" text-anchor="start" font-weight="normal" textLength="12.50" lengthAdjust="spacingAndGlyphs" >M5</text><text x="994" y="16" font-size="10" fill="#3a3a3a" text-anchor="start" font-weight="normal" textLength="17.51" lengthAdjust="spacingAndGlyphs" >M15</text><text x="1021" y="16" font-size="10" fill="#3a3a3a" text-anchor="start" font-weight="normal" textLength="17.51" lengthAdjust="spacingAndGlyphs" >M30</text><text x="1053" y="16" font-size="10" fill="#3a3a3a" text-anchor="start" font-weight="normal" textLength="11.50" lengthAdjust="spacingAndGlyphs" >H1</text><text x="1080" y="16" font-size="10" fill="#3a3a3a" text-anchor="start" font-weight="normal" textLength="11.50" lengthAdjust="spacingAndGlyphs" >H4</text><text x="1108" y="16" font-size="10" fill="#3a3a3a" text-anchor="start" font-weight="normal" textLength="11.50" lengthAdjust="spacingAndGlyphs" >D1</text><text x="1136" y="16" font-size="10" fill="#3a3a3a" text-anchor="start" font-weight="normal" textLength="13.50" lengthAdjust="spacingAndGlyphs" >W1</text><text x="1162" y="16" font-size="10" fill="#3a3a3a" text-anchor="start" font-weight="normal" textLength="14.00" lengthAdjust="spacingAndGlyphs" >MN</text><rect x="1185" y="2" width="1" height="20" fill="#a0a0a0" /><rect x="1186" y="2" width="1" height="20" fill="#ffffff" /><circle cx="1655.5" cy="9.5" r="3.6" fill="#ffffff" stroke="#2a62d0" stroke-width="1.6"/><line x1="1652.5" y1="12.5" x2="1648.5" y2="16.5" stroke="#2a62d0" stroke-width="2.2" stroke-linecap="round"/><ellipse cx="1678" cy="14" rx="6" ry="4.5" fill="#e8e8ee" stroke="#a0a0a8" stroke-width="1"/><polygon points="1675,17 1675,21 1679,17.5" fill="#a0a0a8"/><circle cx="1686.3" cy="9.4" r="8" fill="url(#gbadge)"/><text x="1686.3" y="13.8" font-size="12" fill="#fff" text-anchor="middle" font-weight="bold" textLength="6.67" lengthAdjust="spacingAndGlyphs" >1</text></svg>
</body></html>
